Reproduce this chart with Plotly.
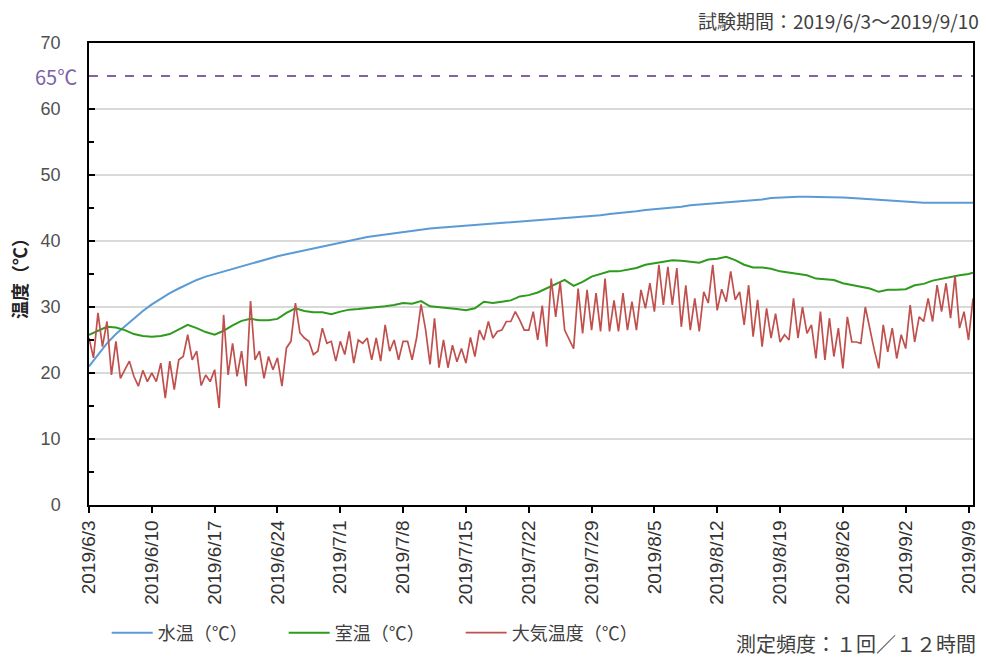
import pandas as pd
import plotly.graph_objects as go

# 12-hour measurement timestamps 2019/6/3 00:00 .. 2019/9/9 12:00
times = pd.date_range("2019-06-03 00:00", "2019-09-09 12:00", freq="12h")
daily_times = list(times[::2]) + [times[-1]]

water_temp = [
    21.0, 22.8, 24.5, 25.9, 27.1, 28.3, 29.4, 30.4, 31.3, 32.1,
    32.8, 33.5, 34.1, 34.6, 35.0, 35.4, 35.8, 36.2, 36.6, 36.9,
    37.3, 37.7, 38.0, 38.3, 38.6, 38.9, 39.2, 39.5, 39.8, 40.1,
    40.4, 40.6, 40.8, 41.0, 41.2, 41.4, 41.6, 41.7, 41.9, 42.0,
    42.1, 42.2, 42.3, 42.4, 42.5, 42.6, 42.7, 42.8, 42.9, 43.0,
    43.1, 43.2, 43.3, 43.4, 43.5, 43.6, 43.8, 43.9, 44.1, 44.2,
    44.4, 44.5, 44.7, 44.8, 45.0, 45.1, 45.2, 45.4, 45.5, 45.6,
    45.8, 45.9, 46.0, 46.1, 46.2, 46.3, 46.5, 46.6, 46.7, 46.7,
    46.7, 46.7, 46.7, 46.7, 46.6, 46.5, 46.4, 46.3, 46.2, 46.1,
    46.0, 45.9, 45.9, 45.8, 45.8, 45.8, 45.8, 45.8, 45.8,
    45.8,
]

room_temp = [
    25.8, 26.4, 27.0, 26.9, 26.5, 25.9, 25.6, 25.5, 25.6, 25.9,
    26.6, 27.3, 26.8, 26.2, 25.8, 26.4, 27.2, 27.9, 28.2, 28.0,
    28.0, 28.2, 29.1, 29.8, 29.4, 29.2, 29.2, 28.9, 29.3, 29.6,
    29.7, 29.8, 30.0, 30.1, 30.3, 30.6, 30.5, 30.9, 30.1, 30.0,
    29.8, 29.7, 29.5, 29.8, 30.8, 30.6, 30.8, 31.0, 31.6, 31.8,
    32.2, 32.8, 33.5, 34.1, 33.2, 33.8, 34.6, 35.0, 35.4, 35.4,
    35.7, 35.9, 36.4, 36.6, 36.9, 37.1, 37.0, 36.8, 36.7, 37.2,
    37.3, 37.6, 37.1, 36.4, 36.0, 36.0, 35.8, 35.4, 35.2, 35.0,
    34.8, 34.3, 34.2, 34.1, 33.6, 33.3, 33.0, 32.8, 32.3, 32.6,
    32.6, 32.7, 33.3, 33.5, 34.0, 34.3, 34.6, 34.8, 35.0,
    35.2,
]

air_temp = [
    25.3, 22.3, 29.1, 24.0, 27.8, 19.7, 24.8, 19.2, 20.5, 21.8,
    19.5, 18.0, 20.4, 18.7, 20.0, 18.7, 21.5, 16.2, 21.8, 17.5,
    22.0, 22.5, 25.8, 22.0, 23.3, 18.1, 19.7, 18.7, 20.5, 14.7,
    28.8, 19.7, 24.5, 19.5, 23.3, 18.0, 30.9, 22.0, 23.3, 19.2,
    22.5,
    20.5, 22.3, 18.0, 23.8, 24.8, 30.6, 26.1, 25.3, 24.8, 22.8,
    23.3, 26.8, 24.5, 24.8, 21.8, 24.8, 22.8, 26.3, 21.5, 25.0,
    24.5, 25.3, 22.0, 25.3, 21.8, 27.3, 23.3, 25.0, 22.0, 24.8,
    24.8, 22.0, 25.3, 30.4, 26.6, 21.3, 28.3, 20.8, 25.0, 20.8,
    24.2, 21.7, 23.7, 21.5, 25.4, 22.5, 26.5, 25.0, 27.8, 25.3,
    26.3, 26.5, 27.8, 27.8, 29.3, 28.0, 26.5, 26.5, 29.3, 25.0,
    30.2, 24.0, 34.3, 28.5, 33.8, 26.5, 25.0, 23.7, 32.8, 26.0,
    32.6, 26.5, 32.1, 26.3, 34.3, 26.3, 31.0, 26.3, 32.1, 26.5,
    30.8, 26.5, 32.6, 29.8, 33.6, 29.3, 36.4, 30.3, 36.1, 30.3,
    35.9, 27.0, 33.3, 26.5, 31.3, 26.3, 32.3, 30.6, 36.4, 29.5,
    32.7, 30.8, 35.4, 31.1, 32.3, 27.3, 33.3, 25.5, 31.1, 24.0,
    29.8, 25.3, 29.0, 24.7, 25.8, 25.0, 31.3, 25.3, 30.0, 26.0,
    27.3, 22.2, 29.3, 22.0, 28.3, 22.5, 26.8, 20.7, 28.5, 24.7,
    24.7, 24.5, 30.0, 26.5, 23.5, 20.7, 27.3, 23.2, 26.8, 22.2,
    25.8, 23.7, 30.3, 24.7, 28.5, 27.8, 31.3, 27.8, 33.3, 29.3,
    33.6, 28.3, 34.8, 26.8, 29.3, 25.0, 31.3,
]

tick_dates = pd.date_range("2019-06-03", "2019-09-09", freq="7D")
tick_labels = ["2019/6/3", "2019/6/10", "2019/6/17", "2019/6/24", "2019/7/1",
               "2019/7/8", "2019/7/15", "2019/7/22", "2019/7/29", "2019/8/5",
               "2019/8/12", "2019/8/19", "2019/8/26", "2019/9/2", "2019/9/9"]

limit_temp = 65
series_names = ["水温（℃）", "室温（℃）", "大気温度（℃）"]

JP = "Noto Sans CJK JP"

fig = go.Figure()
fig.add_trace(go.Scatter(x=daily_times, y=water_temp, mode="lines", name=series_names[0],
                         line=dict(color="#5B9BD5", width=2)))
fig.add_trace(go.Scatter(x=daily_times, y=room_temp, mode="lines", name=series_names[1],
                         line=dict(color="#2E9A1E", width=2)))
fig.add_trace(go.Scatter(x=list(times), y=air_temp, mode="lines", name=series_names[2],
                         line=dict(color="#C0504D", width=1.7)))

fig.add_shape(type="line", xref="paper", yref="y", x0=0, x1=1, y0=limit_temp, y1=limit_temp,
              line=dict(color="#8064A2", width=1.8, dash="dash"))

fig.add_annotation(text=f"{limit_temp}℃", xref="paper", yref="y", x=-0.011, y=limit_temp,
                   xanchor="right", yanchor="middle", showarrow=False,
                   font=dict(family=JP, size=20, color="#7B62A8"))
fig.add_annotation(text="試験期間：2019/6/3～2019/9/10", xref="paper", yref="paper",
                   x=1.009, y=1.0, xanchor="right", yanchor="bottom", yshift=7, showarrow=False,
                   font=dict(family=JP, size=19, color="#404040"))
fig.add_annotation(text="測定頻度：１回／１２時間", xref="paper", yref="paper",
                   x=1.006, y=-0.30, xanchor="right", yanchor="middle", showarrow=False,
                   font=dict(family=JP, size=20, color="#404040"))

fig.update_layout(
    width=986, height=660,
    margin=dict(l=89, r=7, t=43, b=155),
    paper_bgcolor="white", plot_bgcolor="white",
    font=dict(family=JP, color="#404040"),
    showlegend=True,
    legend=dict(orientation="h", x=0.02, y=-0.277, xanchor="left", yanchor="middle",
                itemwidth=41, entrywidth=121, entrywidthmode="pixels",
                font=dict(family=JP, size=18, color="#404040")),
    xaxis=dict(
        type="date",
        range=[times[0], times[-1]],
        tickvals=list(tick_dates), ticktext=tick_labels,
        tickangle=-90,
        tickfont=dict(family="Liberation Sans", size=19, color="#333333"),
        ticks="outside", ticklen=6, tickcolor="black", tickwidth=1.5,
        showgrid=False, showline=True, linecolor="black", linewidth=1.5, mirror=True,
        zeroline=False,
    ),
    yaxis=dict(
        range=[0, 70], dtick=10, tick0=0,
        ticks="inside", ticklen=6, tickcolor="black", tickwidth=1.5,
        minor=dict(dtick=5, ticks="inside", ticklen=5, tickcolor="black", showgrid=False),
        tickfont=dict(family="Liberation Sans", size=18, color="#505050"),
        ticklabelstandoff=23,
        showgrid=True, gridcolor="#D9D9D9", gridwidth=1.5,
        showline=True, linecolor="black", linewidth=1.5, mirror=True,
        zeroline=False,
        title=dict(text="<b>温度（℃）</b>", font=dict(family=JP, size=18, color="#222"), standoff=8),
    ),
)

fig.write_html("out.html")
